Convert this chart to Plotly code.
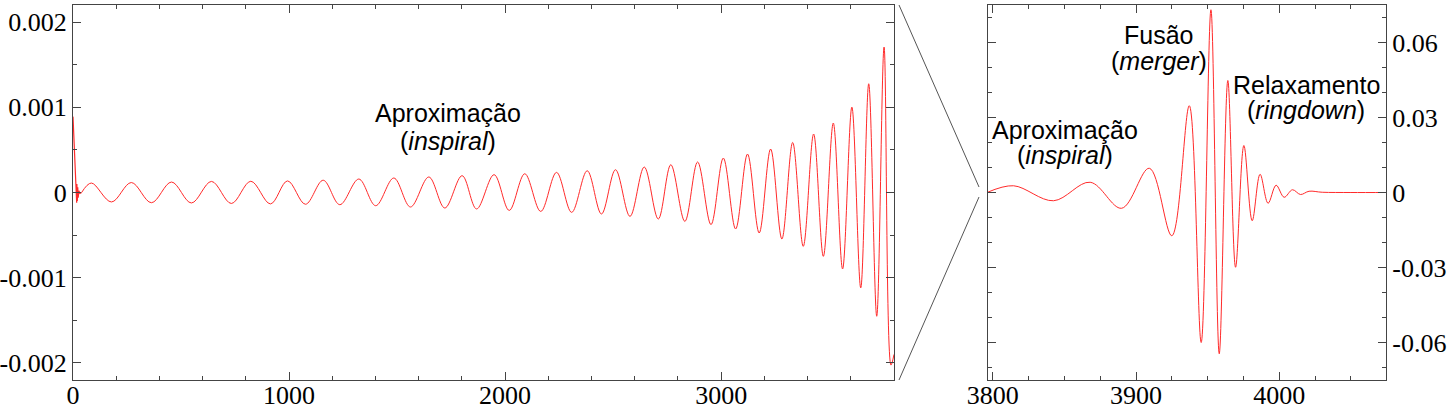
"""Gravitational-wave strain: full inspiral (left) and zoom on merger/ringdown (right)."""
import plotly.graph_objects as go
from plotly.subplots import make_subplots

# --- data ------------------------------------------------------------------
# initial junk radiation burst at t ~ 0
junk_t = [0, 14, 15, 17, 18, 20, 22, 24, 27, 32, 40]
junk_h = [0.00089, 0.00002, 0.00013, -0.00012, 0.0001, -0.0001,
          0.00006, -0.00006, 0.00002, -0.00001, 0.0]

# inspiral extrema (alternating peak / trough), left panel
insp_t = [40, 85, 178, 270, 363, 456, 548, 641, 733, 823, 914, 993, 1076,
          1158, 1235, 1323, 1401, 1485, 1562, 1647, 1721, 1801, 1868, 1949,
          2019, 2091, 2165, 2238, 2308, 2380, 2446, 2511, 2578, 2644, 2709,
          2767, 2832, 2891, 2953, 3010, 3067, 3122, 3176, 3229, 3281, 3331,
          3380, 3428, 3473, 3519, 3562, 3605, 3646, 3683, 3720, 3754, 3786,
          3800]
insp_h = [0.0, 0.111e-3, -0.111e-3, 0.117e-3, -0.120e-3, 0.123e-3,
          -0.123e-3, 0.130e-3, -0.129e-3, 0.132e-3, -0.134e-3, 0.136e-3,
          -0.138e-3, 0.144e-3, -0.143e-3, 0.158e-3, -0.155e-3, 0.170e-3,
          -0.170e-3, 0.182e-3, -0.182e-3, 0.197e-3, -0.193e-3, 0.209e-3,
          -0.210e-3, 0.220e-3, -0.222e-3, 0.236e-3, -0.233e-3, 0.255e-3,
          -0.252e-3, 0.267e-3, -0.280e-3, 0.299e-3, -0.311e-3, 0.326e-3,
          -0.339e-3, 0.358e-3, -0.377e-3, 0.404e-3, -0.428e-3, 0.451e-3,
          -0.475e-3, 0.510e-3, -0.545e-3, 0.587e-3, -0.632e-3, 0.686e-3,
          -0.749e-3, 0.815e-3, -0.897e-3, 1.002e-3, -1.120e-3, 1.276e-3,
          -1.452e-3, 1.706e-3, -2.025e-3, -1.9e-3]

# zoom on the last cycles, merger and ringdown (right panel)
zoom_t = [3796, 3814.5, 3842.4, 3868, 3890, 3909.3, 3925, 3937.2, 3945.5,
          3952.3, 3958.1, 3964.1, 3969.5, 3975.3, 3981.1, 3986.6, 3992.2,
          3997.8, 4003.4, 4009.2, 4014.8, 4020.8, 4030, 4050, 4075]
zoom_h = [0.0, 0.0027, -0.0033, 0.0041, -0.0063, 0.0097, -0.0173, 0.0347,
          -0.060, 0.0731, -0.0645, 0.0448, -0.0299, 0.0188, -0.0113, 0.0073,
          -0.0043, 0.0029, -0.0019, 0.0011, -0.0008, 0.0005, 0.0001, 0.0,
          0.0]

left_yvals = [-0.002, -0.001, 0, 0.001, 0.002]
left_ytext = ["-0.002", "-0.001", "0", "0.001", "0.002"]
right_yvals = [-0.06, -0.03, 0, 0.03, 0.06]
right_ytext = ["-0.06", "-0.03", "0", "0.03", "0.06"]

W, H = 1448, 407
ML, MR, MT, MB = 73, 62, 5, 27
LINE = "#ff2a2a"
AX = "#444444"
SANS = "Liberation Sans, Arial, Helvetica, sans-serif"
SERIF = "Liberation Serif, Times New Roman, serif"

fig = make_subplots(rows=1, cols=2, horizontal_spacing=0.0)

fig.add_trace(go.Scatter(x=junk_t, y=junk_h, mode="lines",
                         line=dict(color=LINE, width=1.2)), row=1, col=1)
fig.add_trace(go.Scatter(x=insp_t, y=insp_h, mode="lines",
                         line=dict(color=LINE, width=1, shape="spline",
                                   smoothing=1.0)), row=1, col=1)
fig.add_trace(go.Scatter(x=zoom_t, y=zoom_h, mode="lines",
                         line=dict(color=LINE, width=1, shape="spline",
                                   smoothing=1.0)), row=1, col=2)

pw = W - ML - MR
left_dom = [0, (894 - ML) / pw]
right_dom = [(988 - ML) / pw, 1]

common = dict(showgrid=False, zeroline=False, showline=True, linecolor=AX,
              linewidth=1.3, mirror="allticks", ticks="inside", ticklen=8,
              tickcolor=AX, tickwidth=1.2, automargin=False,
              tickfont=dict(family=SERIF, size=26, color="black"))

fig.update_xaxes(common, domain=left_dom, range=[0, 3800], tickmode="linear",
                 tick0=0, dtick=1000, ticklabelstandoff=-8,
                 minor=dict(ticks="inside", ticklen=4, dtick=200, tick0=0,
                            tickcolor=AX), row=1, col=1)
fig.update_yaxes(common, range=[-0.0022, 0.0022], tickvals=left_yvals,
                 ticktext=left_ytext,
                 minor=dict(ticks="inside", ticklen=4, dtick=0.0005, tick0=0,
                            tickcolor=AX), row=1, col=1)
fig.update_xaxes(common, domain=right_dom, range=[3796.7, 4074.5],
                 tickmode="linear", tick0=3800, dtick=100,
                 ticklabelstandoff=-8,
                 minor=dict(ticks="inside", ticklen=4, dtick=25, tick0=3800,
                            tickcolor=AX), row=1, col=2)
fig.update_yaxes(common, range=[-0.075, 0.075], side="right",
                 tickvals=right_yvals, ticktext=right_ytext,
                 minor=dict(ticks="inside", ticklen=4, dtick=0.01, tick0=0,
                            tickcolor=AX), row=1, col=2)

# phase labels
labels = [
    ("x", "y", 1735, 0.000936, "Aproximação"),
    ("x", "y", 1735, 0.000600, "(<i>inspiral</i>)"),
    ("x2", "y2", 3850.5, 0.0251, "Aproximação"),
    ("x2", "y2", 3850.5, 0.0151, "(<i>inspiral</i>)"),
    ("x2", "y2", 3916, 0.0631, "Fusão"),
    ("x2", "y2", 3916, 0.0525, "(<i>merger</i>)"),
    ("x2", "y2", 4019, 0.0431, "Relaxamento"),
    ("x2", "y2", 4019, 0.0331, "(<i>ringdown</i>)"),
]
for xr, yr, x, y, txt in labels:
    fig.add_annotation(x=x, y=y, xref=xr, yref=yr, text=txt, showarrow=False,
                       xanchor="center", yanchor="middle",
                       font=dict(family=SANS, size=25, color="black"))


# zoom connector lines between the panels (pixel positions -> paper)
def px(xp, yp):
    return (xp - ML) / pw, (H - MB - yp) / (H - MT - MB)


for (xa, ya), (xb, yb) in [((899, 5), (979, 187)), ((979, 197), (899, 380))]:
    x0, y0 = px(xa, ya)
    x1, y1 = px(xb, yb)
    fig.add_shape(type="line", xref="paper", yref="paper", x0=x0, y0=y0,
                  x1=x1, y1=y1, line=dict(color="#555555", width=1))

fig.update_layout(width=W, height=H, showlegend=False,
                  margin=dict(l=ML, r=MR, t=MT, b=MB),
                  paper_bgcolor="white", plot_bgcolor="white")

# page body has an 8px default margin; drop it so the figure fills the window
fig.write_html("out.html", config={"displayModeBar": False},
               post_script="document.body.style.margin='0';"
                           "document.body.style.overflow='hidden';")
